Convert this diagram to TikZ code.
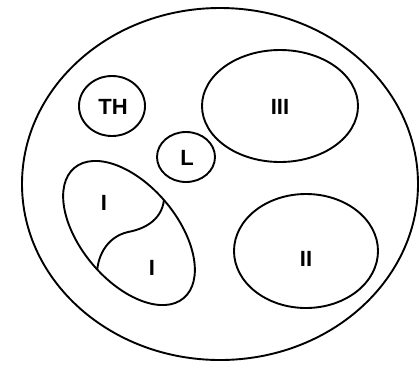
\documentclass[tikz,border=0pt]{standalone}
\usepackage{fontspec}
\setmainfont{Liberation Sans}
\begin{document}
\begin{tikzpicture}[x=1pt,y=-1pt,line width=1.9pt,
  lbl/.style={font=\fontsize{22}{26}\selectfont\bfseries,inner sep=0pt}]
  \useasboundingbox (0,0) rectangle (420,381);
  % Outer set
  \draw (220,184) ellipse [x radius=198, y radius=176];
  % Small sets
  \draw (112,106) ellipse [x radius=33, y radius=30];
  \node[lbl] (th) at (113,107) {TH};
  \draw (186,157) ellipse [x radius=29, y radius=25];
  \node[lbl] (l) at (187,158) {L};
  % Large sets
  \draw (280,106) ellipse [x radius=78, y radius=56];
  \node[lbl] (iii) at (280,107) {III};
  \draw (306,251) ellipse [x radius=72, y radius=57];
  \node[lbl] (ii) at (306,259) {II};
  % Divided set
  \draw[rotate around={-50:(129,233)}] (129,233) ellipse [x radius=85, y radius=48];
  \begin{scope}
    \clip[rotate around={-50:(129,233)}] (129,233) ellipse [x radius=85, y radius=48];
    \draw (165,180) -- (164,192) .. controls (166,215) and (150,228) .. (128,232)
      .. controls (106,237) and (96,258) .. (97,278) -- (97,290);
  \end{scope}
  \node[lbl] (ia) at (104,203) {I};
  \node[lbl] (ib) at (152,268) {I};
\end{tikzpicture}
\end{document}
